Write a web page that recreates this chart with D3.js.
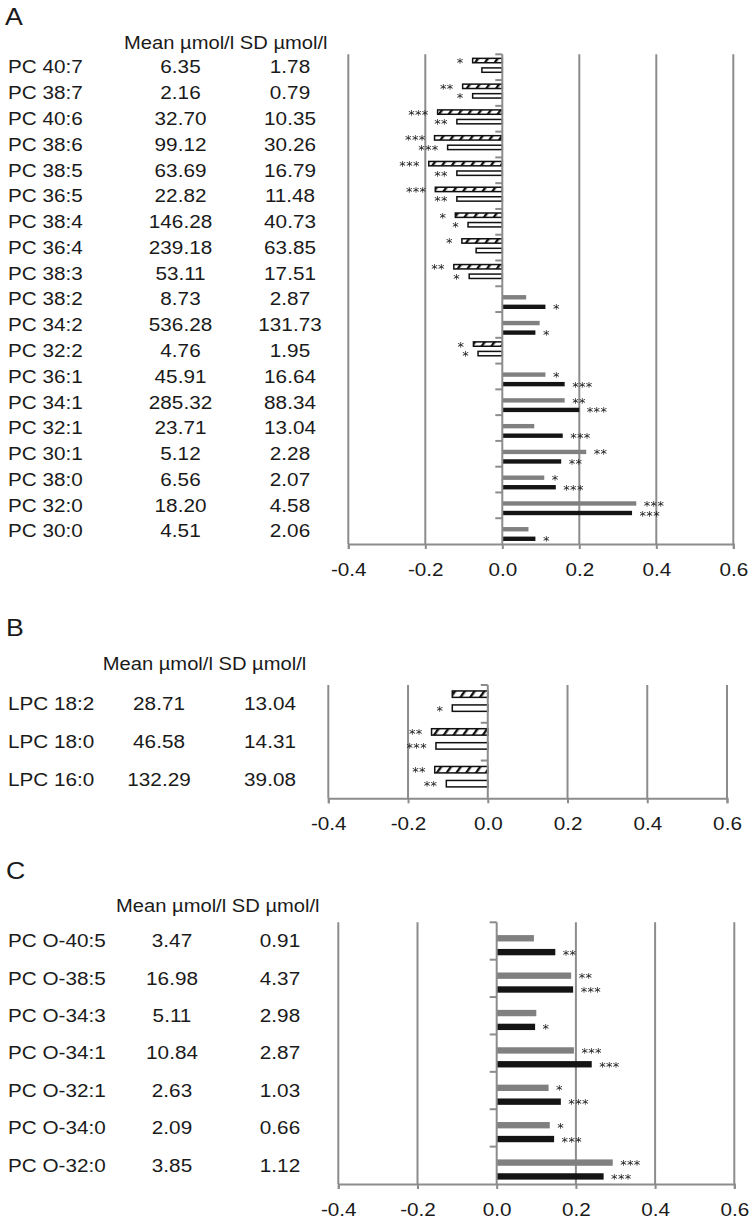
<!DOCTYPE html>
<html><head><meta charset="utf-8">
<script src="https://cdn.jsdelivr.net/npm/d3@7"></script>
<style>
body{margin:0;background:#fff}
svg{display:block}
text{font-family:"Liberation Sans",Arial,sans-serif;fill:#1a1a1a}
</style>
</head><body>
<svg id="chart" width="752" height="1221"></svg>
<script>
// ---------- DATA ----------
const xTicks = [-0.4, -0.2, 0.0, 0.2, 0.4, 0.6];
const headerText = "Mean \u00b5mol/l SD \u00b5mol/l";

// Panel A
const catsA = ["PC 40:7","PC 38:7","PC 40:6","PC 38:6","PC 38:5","PC 36:5","PC 38:4","PC 36:4","PC 38:3","PC 38:2","PC 34:2","PC 32:2","PC 36:1","PC 34:1","PC 32:1","PC 30:1","PC 38:0","PC 32:0","PC 30:0"];
const meanA = [6.35,2.16,32.70,99.12,63.69,22.82,146.28,239.18,53.11,8.73,536.28,4.76,45.91,285.32,23.71,5.12,6.56,18.20,4.51];
const sdA = [1.78,0.79,10.35,30.26,16.79,11.48,40.73,63.85,17.51,2.87,131.73,1.95,16.64,88.34,13.04,2.28,2.07,4.58,2.06];
const series1A = [-0.077,-0.103,-0.168,-0.176,-0.191,-0.174,-0.122,-0.105,-0.126,0.062,0.097,-0.075,0.112,0.162,0.083,0.218,0.109,0.348,0.068];
const series2A = [-0.053,-0.077,-0.118,-0.142,-0.118,-0.118,-0.089,-0.068,-0.086,0.112,0.086,-0.063,0.162,0.200,0.157,0.153,0.139,0.337,0.086];
const sig1A = ["*","**","***","***","***","***","*","*","**","","","*","*","**","","**","*","***",""];
const sig2A = ["","*","**","***","**","**","*","","*","*","*","*","***","***","***","**","***","***","*"];

// Panel B
const catsB = ["LPC 18:2","LPC 18:0","LPC 16:0"];
const meanB = [28.71,46.58,132.29];
const sdB = [13.04,14.31,39.08];
const series1B = [-0.089,-0.141,-0.133];
const series2B = [-0.089,-0.130,-0.104];
const sig1B = ["","**","**"];
const sig2B = ["*","***","**"];

// Panel C
const catsC = ["PC O-40:5","PC O-38:5","PC O-34:3","PC O-34:1","PC O-32:1","PC O-34:0","PC O-32:0"];
const meanC = [3.47,16.98,5.11,10.84,2.63,2.09,3.85];
const sdC = [0.91,4.37,2.98,2.87,1.03,0.66,1.12];
const series1C = [0.094,0.188,0.100,0.195,0.131,0.134,0.293];
const series2C = [0.148,0.193,0.097,0.240,0.162,0.145,0.270];
const sig1C = ["","**","","***","*","*","***"];
const sig2C = ["**","***","*","***","***","***","***"];

// ---------- DRAW ----------
const svg = d3.select("#chart");
const GRID = "#8c8c8c";
const SX = 1.09;

const defs = svg.append("defs");
const pat = defs.append("pattern").attr("id","hatch")
  .attr("patternUnits","userSpaceOnUse").attr("width",8).attr("height",8)
  .attr("patternTransform","rotate(35)");
pat.append("rect").attr("width",8).attr("height",8).attr("fill","#fff");
pat.append("rect").attr("x",0).attr("y",0).attr("width",2.4).attr("height",8).attr("fill","#111");

function stext(g, x, y, str, size, anchor){
  return g.append("text")
    .attr("transform",`translate(${x},${y}) scale(${SX},1)`)
    .attr("text-anchor",anchor||"start")
    .style("font-size",size+"px")
    .text(str);
}

function panel(p){
  const g = svg.append("g");
  const x = d3.scaleLinear().domain([-0.4,0.6]).range([p.x0,p.x1]);
  const y = d3.scaleBand().domain(p.cats).range([p.top,p.bottom]);
  const bw = y.bandwidth();
  const slot = d3.scaleBand().domain(["n1","p1","n2","p2"]).range([0.15*bw,0.89*bw]).paddingInner(0.08).paddingOuter(0.04);

  // letter + header
  stext(g, p.letterX, p.letterY, p.letter, 24.5, "start");
  stext(g, p.headX, p.headY, headerText, 18.5, "start");

  // table rows
  p.cats.forEach((c,i)=>{
    const by = y(c) + bw/2 + 6.3;
    stext(g, 8, by, c, 19, "start");
    stext(g, p.meanX, by, p.mean[i].toFixed(2), 19, "middle");
    stext(g, p.sdX, by, p.sd[i].toFixed(2), 19, "middle");
  });

  // gridlines (non-zero)
  g.append("g").selectAll("line").data(xTicks.filter(d=>d!==0)).join("line")
    .attr("x1",d=>x(d)).attr("x2",d=>x(d))
    .attr("y1",p.top).attr("y2",p.bottom)
    .attr("stroke",GRID).attr("stroke-width",2);

  // bars
  const rows = [];
  p.cats.forEach((c,i)=>{
    rows.push({c, v:p.s1[i], sig:p.g1[i], key:p.s1[i]<0?"n1":"p1"});
    rows.push({c, v:p.s2[i], sig:p.g2[i], key:p.s2[i]<0?"n2":"p2"});
  });
  const fillFor = d => d.key==="n1" ? "url(#hatch)" : d.key==="n2" ? "#fff" : d.key==="p1" ? "#808080" : "#141414";
  g.append("g").selectAll("rect").data(rows).join("rect")
    .attr("x",d=>Math.min(x(d.v),x(0)))
    .attr("width",d=>Math.abs(x(d.v)-x(0)))
    .attr("y",d=>y(d.c)+slot(d.key))
    .attr("height",slot.bandwidth())
    .attr("fill",fillFor)
    .attr("stroke",d=>d.v<0?"#111":"none")
    .attr("stroke-width",1.5);

  // significance stars
  g.append("g").style("filter","grayscale(1)")
    .selectAll("text").data(rows.filter(d=>d.sig)).join("text")
    .attr("transform",d=>{
      const tx = d.v<0 ? x(d.v)-9.5+0.5 : x(d.v)+7.5;
      const ty = y(d.c)+slot(d.key)+slot.bandwidth()/2+6.5;
      return `translate(${tx},${ty}) scale(1.001,1)`;
    })
    .attr("text-anchor",d=>d.v<0?"end":"start")
    .style("font-family","'DejaVu Sans',sans-serif")
    .style("font-size","13px").style("letter-spacing","0.3px")
    .attr("fill","#333")
    .text(d=>d.sig);

  // zero line and its category ticks
  g.append("line").attr("x1",x(0)).attr("x2",x(0)).attr("y1",p.top).attr("y2",p.bottom)
    .attr("stroke",GRID).attr("stroke-width",2);
  const bounds = p.cats.map(c=>y(c));
  g.append("g").selectAll("line").data(bounds).join("line")
    .attr("x1",x(0)-7).attr("x2",x(0)).attr("y1",d=>d).attr("y2",d=>d)
    .attr("stroke",GRID).attr("stroke-width",2);

  // x axis
  const ax = g.append("g").attr("transform",`translate(0,${p.bottom})`)
    .call(d3.axisBottom(x).tickValues(xTicks).tickSize(5).tickSizeOuter(5).tickFormat(d=>d.toFixed(1)));
  ax.attr("font-family",null).attr("font-size",null);
  ax.select(".domain").attr("stroke",GRID).attr("stroke-width",2);
  ax.selectAll(".tick line").attr("stroke",GRID).attr("stroke-width",2);
  ax.selectAll(".tick text").attr("y",32).attr("dy",null)
    .attr("transform",`scale(${SX},1)`)
    .style("font-size","19px").attr("fill","#1a1a1a");
}

panel({letter:"A", letterX:5, letterY:25, headX:124, headY:49.3,
  cats:catsA, mean:meanA, sd:sdA, s1:series1A, s2:series2A, g1:sig1A, g2:sig2A,
  meanX:180.5, sdX:290, x0:348.3, x1:733.3, top:54.3, bottom:544});
panel({letter:"B", letterX:6, letterY:635.7, headX:102.7, headY:670,
  cats:catsB, mean:meanB, sd:sdB, s1:series1B, s2:series2B, g1:sig1B, g2:sig2B,
  meanX:159, sdX:270, x0:328.3, x1:727, top:685, bottom:798.3});
panel({letter:"C", letterX:6, letterY:879, headX:116, headY:911.7,
  cats:catsC, mean:meanC, sd:sdC, s1:series1C, s2:series2C, g1:sig1C, g2:sig2C,
  meanX:172, sdX:280, x0:338.3, x1:734.3, top:922.3, bottom:1184});
</script>
</body></html>
